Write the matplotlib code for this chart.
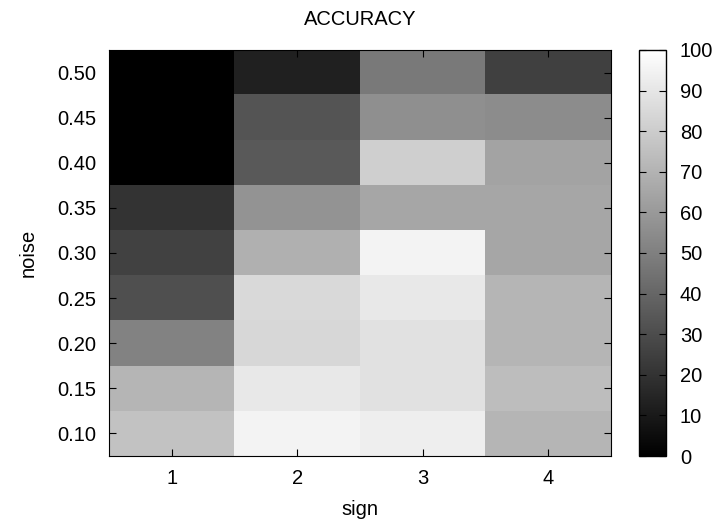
import numpy as np
import matplotlib
matplotlib.use("Agg")
import matplotlib.pyplot as plt

plt.rcParams['font.family'] = ['Liberation Sans', 'DejaVu Sans']

signs = [1, 2, 3, 4]
noise = [0.10, 0.15, 0.20, 0.25, 0.30, 0.35, 0.40, 0.45, 0.50]

# accuracy per noise level (rows) and sign (columns)
acc_010 = [76, 95, 93, 71]
acc_015 = [71, 91, 88, 74]
acc_020 = [51, 84, 88, 71]
acc_025 = [31, 85, 91, 71]
acc_030 = [26, 69, 95, 65]
acc_035 = [20, 58, 65, 65]
acc_040 = [0, 35, 81, 64]
acc_045 = [0, 33, 56, 55]
acc_050 = [0, 13, 48, 25]

grid = np.array([acc_010, acc_015, acc_020, acc_025, acc_030,
                 acc_035, acc_040, acc_045, acc_050])

fs = 14.5

fig = plt.figure(figsize=(7.22, 5.26), dpi=100)
ax = fig.add_axes([109/722, 1 - 456/526, 502/722, 406/526])
cax = fig.add_axes([639/722, 1 - 456/526, 27/722, 406/526])

img = ax.imshow(grid, cmap='gray', vmin=0, vmax=100, origin='lower',
                aspect='auto', interpolation='nearest',
                extent=[0.5, 4.5, 0.075, 0.525])

ax.set_xticks(signs)
ax.set_yticks(noise)
ax.set_yticklabels([f'{n:.2f}' for n in noise])
ax.tick_params(direction='in', top=True, right=True, labelsize=fs, length=5, pad=9)
ax.set_xlabel('sign', fontsize=fs, labelpad=9)
ax.set_ylabel('noise', fontsize=fs, labelpad=14)
ax.set_title('ACCURACY', fontsize=fs, pad=18)

cb = fig.colorbar(img, cax=cax, ticks=range(0, 101, 10))
cax.tick_params(direction='in', left=True, right=True, labelsize=fs, length=5, pad=10)
cb.outline.set_linewidth(1)

fig.savefig('out.png', dpi=100)
